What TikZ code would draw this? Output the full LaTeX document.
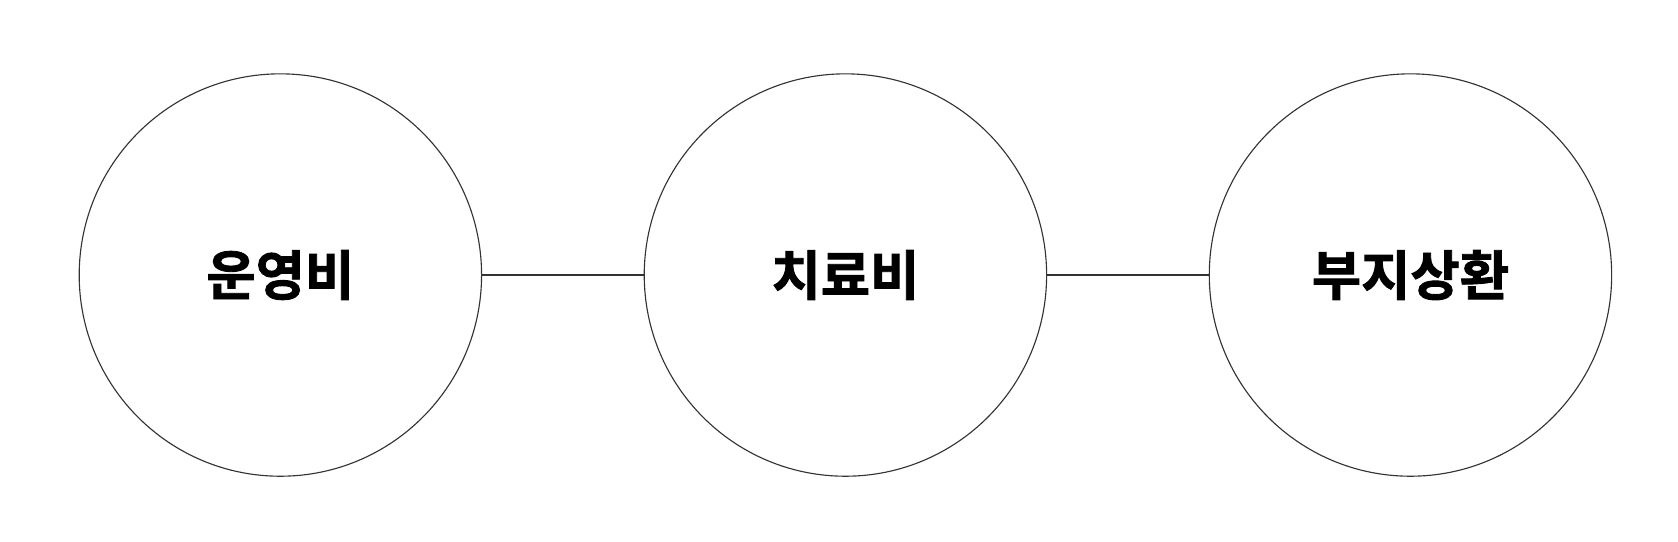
\documentclass[tikz,border=0pt]{standalone}
\usepackage{fontspec}
\newfontfamily\krfont{Noto Sans CJK KR Bold}[FakeBold=1.6]
\usetikzlibrary{positioning}

\begin{document}
\begin{tikzpicture}[
    item/.style={circle, draw=black!80, line width=0.6pt, minimum size=7.52cm, inner sep=0pt, font=\krfont\fontsize{28.5}{32}\selectfont},
    link/.style={draw=black!80, line width=0.6pt}
]
\useasboundingbox (0,0) rectangle (31.36,10.12);

% Items
\node[item] (opcost) at (5.24,4.98) {운영비};
\node[item] (treatcost) at (15.80,4.98) {치료비};
\node[item] (landrepay) at (26.36,4.98) {부지상환};

% Links
\draw[link] (opcost) -- (treatcost);
\draw[link] (treatcost) -- (landrepay);

\end{tikzpicture}
\end{document}
